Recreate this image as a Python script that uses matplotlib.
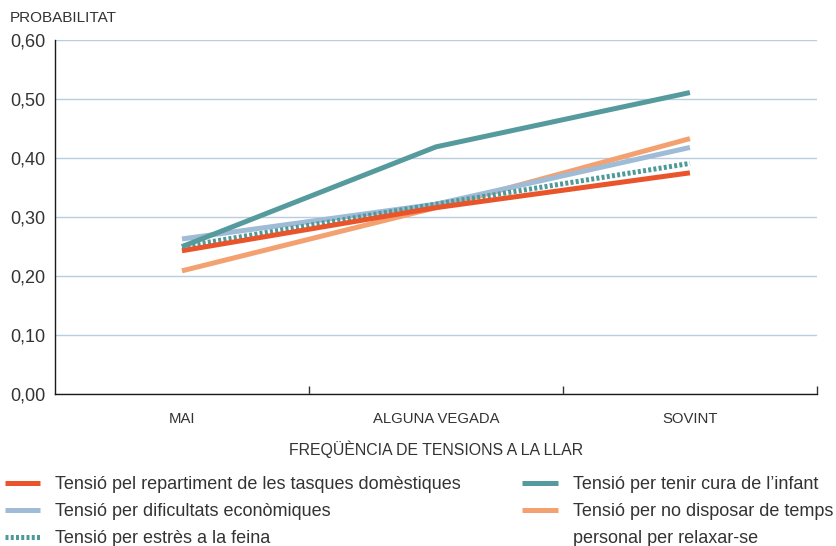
import matplotlib.pyplot as plt
from matplotlib.ticker import FixedLocator, FuncFormatter

plt.rcParams['font.family'] = ['Liberation Sans', 'DejaVu Sans']

categories = ['MAI', 'ALGUNA VEGADA', 'SOVINT']
tasques = [0.243, 0.316, 0.375]
infant = [0.250, 0.419, 0.511]
economiques = [0.263, 0.322, 0.418]
temps = [0.209, 0.316, 0.433]
feina = [0.250, 0.322, 0.391]

labels = ['Tensió pel repartiment de les tasques domèstiques',
          'Tensió per dificultats econòmiques',
          'Tensió per estrès a la feina',
          'Tensió per tenir cura de l\u2019infant',
          'Tensió per no disposar de temps']
label_extra = 'personal per relaxar-se'

text_col = '#333333'
x = range(len(categories))

fig = plt.figure(figsize=(8.37, 5.46), dpi=100)
ax = fig.add_axes([0.0657, 0.278, 0.9103, 0.6487])

l_temps, = ax.plot(x, temps, color='#f4a171', lw=3.6, solid_capstyle='butt', zorder=3)
l_eco, = ax.plot(x, economiques, color='#9fbbd6', lw=3.6, solid_capstyle='butt', zorder=3)
l_feina, = ax.plot(x, feina, color='#4f9a99', lw=3.6, ls=(0, (0.6, 0.45)), zorder=3)
l_tasq, = ax.plot(x, tasques, color='#e9542a', lw=3.6, solid_capstyle='butt', zorder=4)
l_inf, = ax.plot(x, infant, color='#559a9d', lw=3.6, solid_capstyle='butt', zorder=5)

ax.set_xlim(-0.5, 2.5)
ax.set_ylim(0, 0.6)
ax.set_yticks([0, 0.1, 0.2, 0.3, 0.4, 0.5, 0.6])
ax.yaxis.set_major_formatter(FuncFormatter(lambda v, p: f'{v:.2f}'.replace('.', ',')))
ax.set_xticks(list(x))
ax.set_xticklabels(categories)
ax.xaxis.set_minor_locator(FixedLocator([0.5, 1.5, 2.5]))
ax.tick_params(axis='x', which='major', length=0, pad=13, labelsize=10.7, labelcolor=text_col)
ax.tick_params(axis='x', which='minor', direction='in', length=6, width=1, color='#333333')
ax.tick_params(axis='y', length=0, pad=7, labelsize=13, labelcolor=text_col)

ax.grid(axis='y', color='#b9cde0', lw=1)
ax.set_axisbelow(True)
for s in ['top', 'right']:
    ax.spines[s].set_visible(False)
for s in ['left', 'bottom']:
    ax.spines[s].set_color('#1a1a1a')
    ax.spines[s].set_linewidth(1)

ax.set_xlabel('FREQÜÈNCIA DE TENSIONS A LA LLAR', fontsize=11.4, color=text_col, labelpad=10)
fig.text(0.012, 0.967, 'PROBABILITAT', fontsize=11, color=text_col, va='center', ha='left')

leg = fig.legend([l_tasq, l_eco, l_feina, l_inf, l_temps], labels, ncol=2,
                 loc='upper left', bbox_to_anchor=(0.006, 0.128), frameon=False,
                 fontsize=13, handlelength=1.95, handletextpad=0.83,
                 columnspacing=3.4, labelspacing=0.56, borderaxespad=0, borderpad=0)
for t in leg.get_texts():
    t.set_color(text_col)

# second line of the last label, placed under its first line
fig.canvas.draw()
bb = leg.get_texts()[4].get_window_extent().transformed(fig.transFigure.inverted())
bb1 = leg.get_texts()[3].get_window_extent().transformed(fig.transFigure.inverted())
fig.text(bb.x0, bb.y0 - (bb1.y0 - bb.y0), label_extra, fontsize=13, color=text_col,
         ha='left', va='bottom')

fig.savefig('out.png', dpi=100)
